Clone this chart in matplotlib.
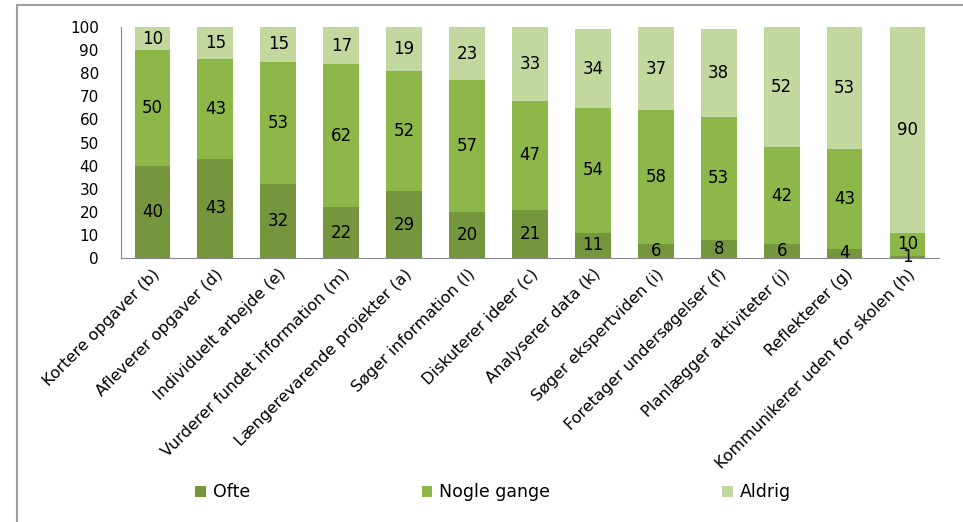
import matplotlib.pyplot as plt
import numpy as np
from matplotlib.lines import Line2D

plt.rcParams['font.family'] = ['DejaVu Sans']

categories = ['Kortere opgaver (b)', 'Afleverer opgaver (d)', 'Individuelt arbejde (e)',
              'Vurderer fundet information (m)', 'Længerevarende projekter (a)',
              'Søger information (l)', 'Diskuterer ideer (c)', 'Analyserer data (k)',
              'Søger ekspertviden (i)', 'Foretager undersøgelser (f)',
              'Planlægger aktiviteter (j)', 'Reflekterer (g)', 'Kommunikerer uden for skolen (h)']
ofte = [40, 43, 32, 22, 29, 20, 21, 11, 6, 8, 6, 4, 1]
nogle = [50, 43, 53, 62, 52, 57, 47, 54, 58, 53, 42, 43, 10]
aldrig = [10, 15, 15, 17, 19, 23, 33, 34, 37, 38, 52, 53, 90]
series_names = ['Ofte', 'Nogle gange', 'Aldrig']
colors = ['#76963E', '#8DB849', '#C3D89E']

fig = plt.figure(figsize=(9.63, 5.22), dpi=100)
ax = fig.add_axes([0.1257, 0.5057, 0.8493, 0.4425])

x = np.arange(len(categories))
bottom = np.zeros(len(categories))
for vals, name, col in zip([ofte, nogle, aldrig], series_names, colors):
    vals = np.array(vals)
    bars = ax.bar(x, vals, 0.57, bottom=bottom, color=col, label=name)
    ax.bar_label(bars, labels=[str(v) for v in vals], label_type='center',
                 fontsize=12, color='black')
    bottom = bottom + vals

ax.set_xlim(-0.5, len(categories) - 0.5)
ax.set_ylim(0, 100)
ax.set_yticks(range(0, 101, 10))
ax.tick_params(axis='y', length=0, labelsize=11, pad=16)
ax.tick_params(axis='x', length=0, labelsize=11.5, pad=6)
ax.set_xticks(x)
ax.set_xticklabels(categories, rotation=45, ha='right', rotation_mode='anchor')
for s in ['top', 'right']:
    ax.spines[s].set_visible(False)
for s in ['left', 'bottom']:
    ax.spines[s].set_color('#888888')

fig.legend(loc='center', bbox_to_anchor=(0.512, 0.057), ncol=3, frameon=False,
           fontsize=12.5, handlelength=0.6, handleheight=0.6, handletextpad=0.4,
           columnspacing=9.9)

# outer chart frame (top and left edges visible)
fig.add_artist(Line2D([17 / 963, 17 / 963], [0, 1 - 5 / 522], color='#A0A0A0', lw=1.5))
fig.add_artist(Line2D([17 / 963, 1], [1 - 5 / 522, 1 - 5 / 522], color='#A0A0A0', lw=1.5))

fig.savefig('out.png', dpi=100)
